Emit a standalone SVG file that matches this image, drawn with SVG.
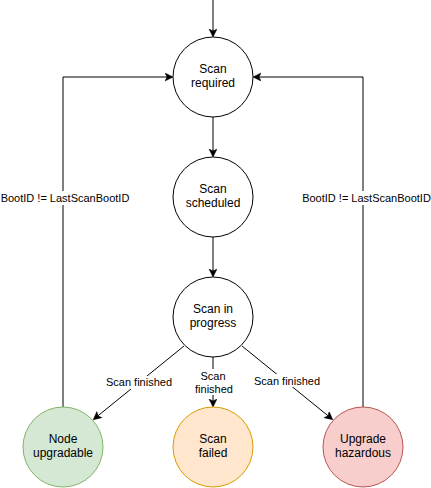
<svg xmlns="http://www.w3.org/2000/svg" width="431" height="488" viewBox="0 0 431 488">
<style>
.n{stroke:#000;stroke-width:1;fill:#fff}
.t{font-family:"Liberation Sans",Arial,sans-serif;font-size:12px;fill:#000;text-anchor:middle}
.s{font-size:11px}
.e{stroke:#000;stroke-width:1;fill:none;marker-end:url(#a)}
.lb{fill:#fff}
</style>
<defs>
<marker id="a" markerWidth="10" markerHeight="10" refX="7" refY="4" orient="auto" markerUnits="userSpaceOnUse">
<path d="M0,0 L8,4 L0,8 L2,4 Z" fill="#000" stroke="#000" stroke-width="0.5"/>
</marker>
</defs>
<g id="connectors">
<path class="e" d="M213,0 L213,36"/>
<path class="e" d="M213,117 L213,156"/>
<path class="e" d="M213,237 L213,276"/>
<path class="e" d="M63,407 L63,77 L172,77"/>
<path class="e" d="M363,407 L363,77 L254,77"/>
<path class="e" d="M184,346 L94,419"/>
<path class="e" d="M213,357 L213,406"/>
<path class="e" d="M242,346 L332,419"/>
<rect class="lb" x="1" y="191" width="128" height="14"/>
<text class="t s" x="65" y="202">BootID != LastScanBootID</text>
<rect class="lb" x="302" y="191" width="129" height="14"/>
<text class="t s" x="366.5" y="202">BootID != LastScanBootID</text>
<rect class="lb" x="106" y="376" width="67" height="13"/>
<text class="t s" x="139" y="386">Scan finished</text>
<rect class="lb" x="194" y="369" width="38" height="26"/>
<text class="t s" x="213" y="380">Scan</text>
<text class="t s" x="214" y="393">finished</text>
<rect class="lb" x="253" y="374" width="68" height="13"/>
<text class="t s" x="287" y="385">Scan finished</text>
</g>
<g id="scan-required">
<circle class="n" cx="213" cy="77" r="40"/>
<text class="t" x="213" y="73">Scan</text>
<text class="t" x="213" y="87">required</text>
</g>
<g id="scan-scheduled">
<circle class="n" cx="213" cy="197" r="40"/>
<text class="t" x="213" y="193">Scan</text>
<text class="t" x="213" y="207">scheduled</text>
</g>
<g id="scan-in-progress">
<circle class="n" cx="213" cy="317" r="40"/>
<text class="t" x="213" y="313">Scan in</text>
<text class="t" x="213" y="327">progress</text>
</g>
<g id="node-upgradable">
<circle cx="63" cy="447" r="40" fill="#d5e8d4" stroke="#82b366"/>
<text class="t" x="63" y="443">Node</text>
<text class="t" x="63" y="457">upgradable</text>
</g>
<g id="scan-failed">
<circle cx="213" cy="447" r="40" fill="#ffe6cc" stroke="#d79b00"/>
<text class="t" x="213" y="443">Scan</text>
<text class="t" x="213" y="457">failed</text>
</g>
<g id="upgrade-hazardous">
<circle cx="363" cy="447" r="40" fill="#f8cecc" stroke="#b85450"/>
<text class="t" x="363" y="443">Upgrade</text>
<text class="t" x="363" y="457">hazardous</text>
</g>
</svg>
